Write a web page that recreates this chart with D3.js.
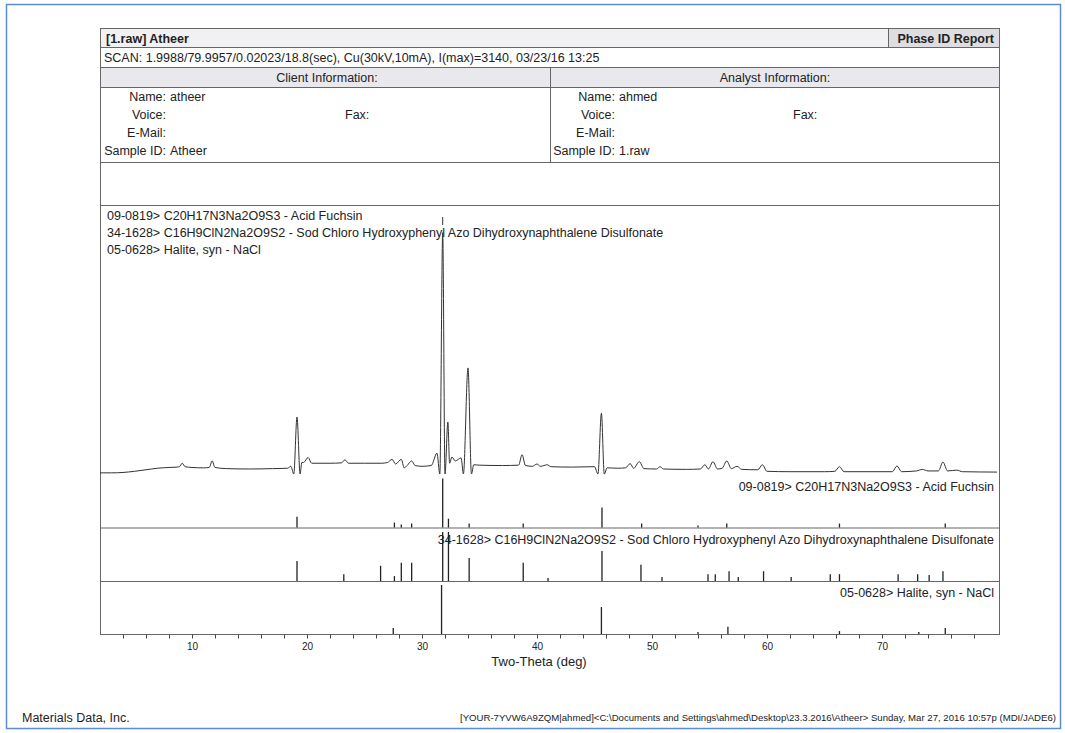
<!DOCTYPE html>
<html lang="en">
<head>
<meta charset="UTF-8">
<title>Phase ID Report</title>
<script src="https://d3js.org/d3.v7.min.js"></script>
<style>
    body { margin: 0; background: #fff; }
    svg { display: block; font-family: "Liberation Sans", Arial, sans-serif; }
    .t { fill: #222; font-size: 12.5px; }
</style>
</head>
<body>
<svg width="1065" height="733"></svg>
<script>
// measured scan trace, [two-theta, counts]
const scan = [
  [2.0, 15], [3.0, 15], [4.0, 20], [5.0, 35], [6.0, 55], [7.0, 75], [8.0, 85], [8.7, 90],
  [8.9, 95], [9.15, 140], [9.4, 95], [10.0, 85], [11.0, 80], [11.5, 85], [11.75, 170], [12.0, 85],
  [13, 70], [15, 65], [17, 70], [18.3, 75], [18.6, 100], [18.85, 0], [19.13, 740], [19.4, 0],
  [19.55, 150], [19.7, 150], [20.1, 215], [20.4, 140], [22, 140], [23.0, 145], [23.3, 185],
  [23.6, 140], [25, 140], [26.5, 140], [27.0, 150], [27.4, 190], [27.7, 130], [28.2, 190],
  [28.45, 80], [28.7, 110], [29.1, 170], [29.4, 110], [30, 100], [30.8, 110], [31.3, 270],
  [31.55, 0], [31.8, 3140], [32.0, 0], [32.25, 675], [32.4, 140], [32.6, 220], [32.9, 170],
  [33.4, 210], [33.6, 0], [34.0, 1380], [34.3, 0], [34.5, 120], [35, 115], [37, 110], [38.4, 115],
  [38.7, 250], [39.0, 110], [39.6, 100], [40.0, 130], [40.3, 100], [40.9, 120], [41.2, 95],
  [43, 90], [45.0, 95], [45.3, 0], [45.6, 790], [45.85, 0], [46.1, 80], [47, 75], [47.7, 80],
  [48.1, 135], [48.4, 75], [48.9, 160], [49.3, 70], [50.4, 65], [50.7, 95], [51.0, 65], [53, 60],
  [54.2, 65], [54.6, 120], [54.9, 65], [55.3, 160], [55.7, 65], [56.1, 75], [56.5, 170],
  [56.9, 70], [57.4, 100], [57.8, 60], [59.2, 55], [59.6, 120], [60.0, 35], [62, 30], [65, 30],
  [65.9, 35], [66.3, 95], [66.7, 30], [70.9, 30], [71.3, 105], [71.7, 30], [73, 40], [73.5, 60],
  [74, 40], [74.9, 40], [75.3, 155], [75.7, 40], [76.5, 50], [77, 30], [80, 25]
];

// reference patterns, [two-theta, relative intensity %]
const fuchsinLines = [
  [19.13, 22], [27.6, 10], [28.2, 6], [29.1, 8], [31.8, 100], [32.3, 18], [34.1, 8], [38.8, 8],
  [45.65, 41], [49.1, 8], [54.0, 4], [56.5, 8], [66.3, 8], [75.5, 8]
];
const sodChloroLines = [
  [19.13, 41], [23.2, 14], [26.4, 31], [27.6, 10], [28.2, 37], [29.1, 37], [31.8, 100],
  [32.3, 100], [34.1, 47], [38.8, 37], [40.96, 6], [45.65, 61], [49.04, 33], [50.87, 8],
  [54.87, 14], [55.5, 14], [56.7, 20], [57.5, 8], [59.7, 20], [62.1, 8], [65.5, 14], [66.3, 14],
  [71.4, 14], [73.1, 14], [74.1, 12], [75.3, 20]
];
const haliteLines = [
  [27.5, 12], [31.7, 100], [45.6, 55], [54.0, 4], [56.6, 15], [66.3, 6], [73.2, 4], [75.5, 12]
];

const phaseNames = [
  "09-0819> C20H17N3Na2O9S3 - Acid Fuchsin",
  "34-1628> C16H9ClN2Na2O9S2 - Sod Chloro Hydroxyphenyl Azo Dihydroxynaphthalene Disulfonate",
  "05-0628> Halite, syn - NaCl"
];
const scanInfo = "SCAN: 1.9988/79.9957/0.02023/18.8(sec), Cu(30kV,10mA), I(max)=3140, 03/23/16 13:25";
const clientInfo = [["Name:", "atheer"], ["Voice:", ""], ["E-Mail:", ""], ["Sample ID:", "Atheer"]];
const analystInfo = [["Name:", "ahmed"], ["Voice:", ""], ["E-Mail:", ""], ["Sample ID:", "1.raw"]];
const axisTicks = d3.range(4, 80, 2);

const svg = d3.select("svg");

// blue frame of the screenshot
svg.append("rect").attr("x", 6.5).attr("y", 4.5).attr("width", 1054).attr("height", 724)
    .attr("fill", "none").attr("stroke", "#5b8cd6").attr("stroke-width", 1.5);

const L = 100, R = 1000;
const line = (x1, y1, x2, y2, c) => svg.append("line")
    .attr("x1", x1).attr("y1", y1).attr("x2", x2).attr("y2", y2)
    .attr("stroke", c || "#666").attr("stroke-width", 1);

// header rows
svg.append("rect").attr("x", L).attr("y", 28).attr("width", R - L).attr("height", 19).attr("fill", "#f1f1f3");
svg.append("rect").attr("x", 888).attr("y", 28).attr("width", R - 888).attr("height", 19).attr("fill", "#dddde2");
svg.append("rect").attr("x", L).attr("y", 67).attr("width", R - L).attr("height", 20).attr("fill", "#e9e9ed");
svg.append("rect").attr("x", L + 0.5).attr("y", 28.5).attr("width", R - L - 1).attr("height", 606)
    .attr("fill", "none").attr("stroke", "#666");
[47, 67, 87, 162, 205].forEach(y => line(L, y + 0.5, R, y + 0.5));
line(888.5, 28, 888.5, 47);
line(550.5, 67, 550.5, 162);

svg.append("text").attr("class", "t").attr("x", 106).attr("y", 42.5)
    .style("font-weight", "bold").text("[1.raw] Atheer");
svg.append("text").attr("class", "t").attr("x", 994).attr("y", 42.5).attr("text-anchor", "end")
    .style("font-weight", "bold").text("Phase ID Report");
svg.append("text").attr("class", "t").attr("x", 104).attr("y", 62).text(scanInfo);
svg.append("text").attr("class", "t").attr("x", 327).attr("y", 82).attr("text-anchor", "middle").text("Client Information:");
svg.append("text").attr("class", "t").attr("x", 775).attr("y", 82).attr("text-anchor", "middle").text("Analyst Information:");

function infoBlock(rows, xLab, xFax) {
    rows.forEach((r, i) => {
        const y = 101 + i * 18;
        svg.append("text").attr("class", "t").attr("x", xLab).attr("y", y).attr("text-anchor", "end").text(r[0]);
        if (r[1]) svg.append("text").attr("class", "t").attr("x", xLab + 4).attr("y", y).text(r[1]);
    });
    svg.append("text").attr("class", "t").attr("x", xFax).attr("y", 119).text("Fax:");
}
infoBlock(clientInfo, 166, 345);
infoBlock(analystInfo, 615, 793);

// scales
const x = d3.scaleLinear().domain([2, 80.26]).range([L, R]);
const y = d3.scaleLinear().domain([0, 3500]).range([474, 205]);
const h = d3.scaleLinear().domain([0, 100]).range([0, 49]);

// scan trace
svg.append("path").datum(scan)
    .attr("d", d3.line().x(d => x(d[0])).y(d => y(d[1])).curve(d3.curveMonotoneX))
    .attr("fill", "none").attr("stroke", "#333").attr("stroke-width", 1);
line(x(31.8), 217, x(31.8), 225, "#333");

phaseNames.forEach((n, i) => {
    svg.append("text").attr("class", "t").attr("x", 107).attr("y", 220 + i * 17).text(n);
});

// stick panels
const panels = [fuchsinLines, sodChloroLines, haliteLines];
const panelBase = [527.5, 581, 634];
panels.forEach((lines, i) => {
    const b = panelBase[i];
    line(L, b + 0.5, R, b + 0.5, "#666");
    svg.append("text").attr("class", "t").attr("x", 994).attr("y", b - 37)
        .attr("text-anchor", "end").text(phaseNames[i]);
    svg.append("g").selectAll("line").data(lines).join("line")
        .attr("x1", d => x(d[0])).attr("x2", d => x(d[0]))
        .attr("y1", b).attr("y2", d => b - h(d[1]))
        .attr("stroke", "#222").attr("stroke-width", 1.3);
});

// x axis
const ax = svg.append("g").attr("transform", "translate(0,634.5)")
    .call(d3.axisBottom(x).tickValues(axisTicks).tickSize(4).tickPadding(4)
        .tickFormat(d => d % 10 === 0 ? d : ""));
ax.select(".domain").remove();
ax.selectAll("line").attr("stroke", "#444");
ax.selectAll("text").attr("fill", "#222").style("font-size", "10px")
    .style("font-family", "'Liberation Sans Narrow', 'Liberation Sans', sans-serif");

svg.append("text").attr("class", "t").attr("x", 539).attr("y", 666).attr("text-anchor", "middle")
    .style("font-size", "13px").text("Two-Theta (deg)");

// footer
svg.append("text").attr("class", "t").attr("x", 22).attr("y", 722).text("Materials Data, Inc.");
svg.append("text").attr("class", "t").attr("x", 460).attr("y", 721)
    .attr("textLength", 596).attr("lengthAdjust", "spacingAndGlyphs")
    .style("font-size", "9px").style("font-family", "'Liberation Sans Narrow', 'Liberation Sans', sans-serif")
    .text("[YOUR-7YVW6A9ZQM|ahmed]<C:\\Documents and Settings\\ahmed\\Desktop\\23.3.2016\\Atheer> Sunday, Mar 27, 2016 10:57p (MDI/JADE6)");
</script>
</body>
</html>
